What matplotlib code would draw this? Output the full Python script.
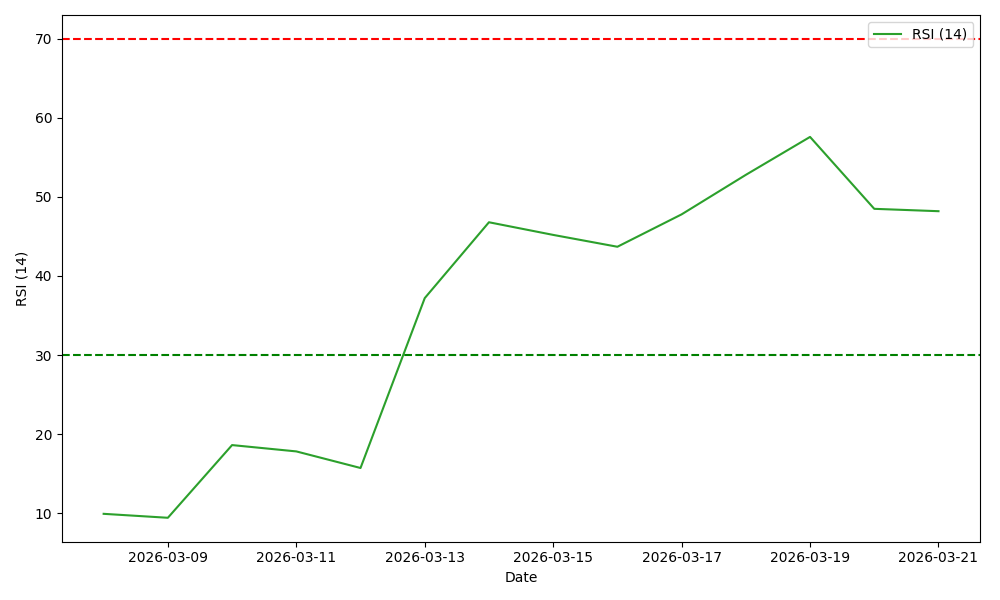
import pandas as pd
import matplotlib
matplotlib.use('Agg')
import matplotlib.pyplot as plt

dates = pd.date_range('2026-03-08', '2026-03-21', freq='D')
rsi = [9.9, 9.4, 18.6, 17.8, 15.7, 37.2, 46.8, 45.2, 43.7, 47.8, 52.8, 57.6, 48.5, 48.2]
overbought = 70
oversold = 30

fig, ax = plt.subplots(figsize=(10, 6))
ax.plot(dates, rsi, color='tab:green', label='RSI (14)')
ax.axhline(overbought, color='red', linestyle='--')
ax.axhline(oversold, color='green', linestyle='--')
ax.set_xlabel('Date')
ax.set_ylabel('RSI (14)')
ax.legend(loc='upper right')
plt.tight_layout()
plt.savefig('out.png', dpi=100)
